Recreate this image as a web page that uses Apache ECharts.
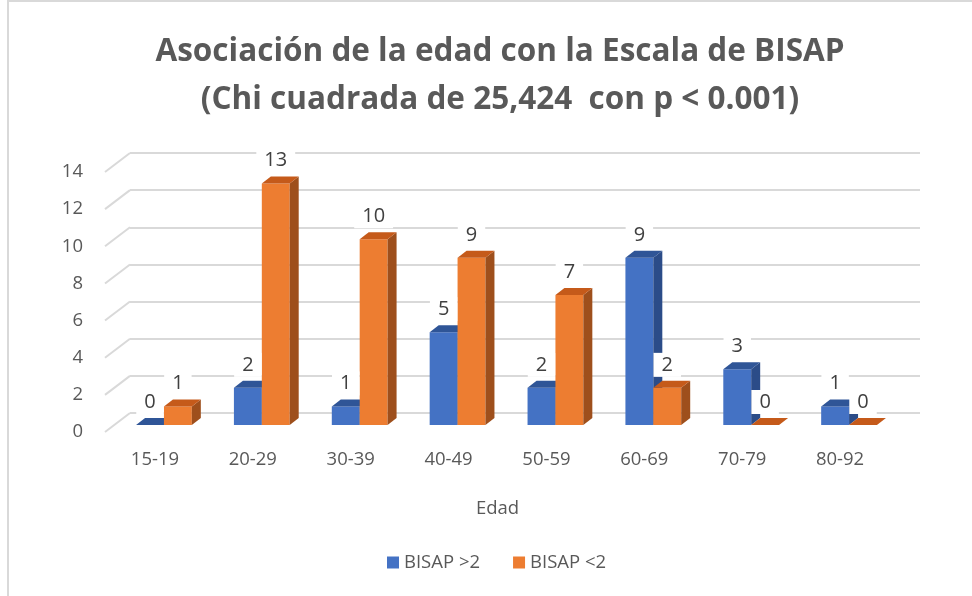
<!DOCTYPE html>
<html><head><meta charset="utf-8">
<script src="https://cdn.jsdelivr.net/npm/echarts@6/dist/echarts.min.js"></script>
<style>html,body{margin:0;padding:0;background:#fff}#c{width:972px;height:596px}</style>
</head><body><div id="c"></div>
<script>
var categories = ['15-19','20-29','30-39','40-49','50-59','60-69','70-79','80-92'];
var seriesNames = ['BISAP >2','BISAP <2'];
var bisapHigh = [0,2,1,5,2,9,3,1];
var bisapLow = [1,13,10,9,7,2,0,0];
var yTicks = [0,2,4,6,8,10,12,14];
var titleText = 'Asociación de la edad con la Escala de BISAP\n(Chi cuadrada de 25,424  con p < 0.001)';
var xName = 'Edad';

var FONT = "'Open Sans','Noto Sans',sans-serif";
var LFONT = "'Open Sans','Noto Sans',sans-serif";
var palettes = [
  {front:'#4472C4', top:'#2F5597', side:'#2B4C88'},
  {front:'#ED7D31', top:'#C55A1A', side:'#9E4F1C'}
];
var DX = 9, DY = -7;

function barGeom(api, idx){
  var cat = api.value(0), v = api.value(1);
  var base = api.coord([cat, 0]);
  var top = api.coord([cat, v]);
  var band = api.size([1, 0])[0];
  var w = band * 0.285;
  var x0 = idx === 0 ? base[0] - w : base[0];
  return {x0:x0, x1:x0+w, yb:base[1], yt:top[1], w:w, v:v};
}
function makeBars(idx){
  var p = palettes[idx];
  return function(params, api){
    var g = barGeom(api, idx);
    var ch = [];
    ch.push({type:'rect', shape:{x:g.x0, y:g.yt, width:g.w, height:g.yb-g.yt}, style:{fill:p.front}});
    ch.push({type:'polygon', shape:{points:[[g.x1,g.yt],[g.x1+DX,g.yt+DY],[g.x1+DX,g.yb+DY],[g.x1,g.yb]]}, style:{fill:p.side}});
    ch.push({type:'polygon', shape:{points:[[g.x0,g.yt],[g.x1,g.yt],[g.x1+DX,g.yt+DY],[g.x0+DX,g.yt+DY]]}, style:{fill:p.top}});
    return {type:'group', children:ch};
  };
}
function makeLabels(idx){
  return function(params, api){
    var g = barGeom(api, idx);
    return {type:'text', x:(g.x0+g.x1)/2, y:g.yt-23,
      style:{text:String(g.v), fill:'#404040', font:'20px '+LFONT, align:'center', verticalAlign:'middle',
        backgroundColor:'#fff', padding:[3,8,1,8]}};
  };
}
function toData(arr){ return arr.map(function(v,i){return [i,v];}); }

var chart = echarts.init(document.getElementById('c'), null, {renderer:'canvas'});
chart.setOption({
  backgroundColor:'#fff',
  animation:false,
  graphic:[{type:'rect', shape:{x:8, y:1, width:980, height:610}, style:{fill:'none', stroke:'#d9d9d9', lineWidth:2}, z:-10}],
  title:{text:titleText, left:495, textAlign:'center', top:23,
    textStyle:{fontFamily:FONT, fontSize:31.5, fontWeight:'bold', color:'#595959', lineHeight:48}},
  legend:{data:seriesNames.map(function(n,i){return {name:n, itemStyle:{color:palettes[i].front}};}),
    bottom:19, left:382, icon:'rect', itemWidth:12, itemHeight:12, itemGap:33,
    textStyle:{fontFamily:LFONT, fontSize:18.5, color:'#595959'}},
  grid:[
    {left:115, right:74, top:165, bottom:171},
    {left:130, right:52, top:153, bottom:183},
    {left:106, right:83, top:172, bottom:164}
  ],
  xAxis:[
    {gridIndex:0, type:'category', data:categories, show:false},
    {gridIndex:1, type:'value', min:0, max:1, show:false},
    {gridIndex:2, type:'category', data:categories, axisLine:{show:false}, axisTick:{show:false},
     axisLabel:{fontFamily:LFONT, fontSize:18.5, color:'#595959', margin:18},
     name:xName, nameLocation:'middle', nameGap:67, nameTextStyle:{fontFamily:LFONT, fontSize:18.5, color:'#595959'}}
  ],
  yAxis:[
    {gridIndex:0, type:'value', min:0, max:14, interval:2, show:false},
    {gridIndex:1, type:'value', min:0, max:14, interval:2, axisLine:{show:false}, axisTick:{show:false}, axisLabel:{show:false},
     splitLine:{lineStyle:{color:'#d9d9d9', width:2}}},
    {gridIndex:2, type:'value', min:0, max:14, interval:2, axisLine:{show:false}, axisTick:{show:false}, splitLine:{show:false},
     axisLabel:{fontFamily:LFONT, fontSize:18.5, color:'#595959', margin:23}}
  ],
  series:[
    {type:'custom', name:'_diag', xAxisIndex:1, yAxisIndex:1, silent:true, z:1,
     data:yTicks.map(function(t){return [0,t];}),
     renderItem:function(params, api){
       var p = api.coord([0, api.value(1)]);
       return {type:'line', shape:{x1:p[0], y1:p[1], x2:p[0]-25, y2:p[1]+19}, style:{stroke:'#d9d9d9', lineWidth:2}};
     }},
    {type:'custom', name:seriesNames[0], xAxisIndex:0, yAxisIndex:0, z:3, itemStyle:{color:palettes[0].front},
     data:toData(bisapHigh), renderItem:makeBars(0)},
    {type:'custom', name:seriesNames[1], xAxisIndex:0, yAxisIndex:0, z:4, itemStyle:{color:palettes[1].front},
     data:toData(bisapLow), renderItem:makeBars(1)},
    {type:'custom', name:'_lab0', xAxisIndex:0, yAxisIndex:0, z:10, silent:true, data:toData(bisapHigh), renderItem:makeLabels(0)},
    {type:'custom', name:'_lab1', xAxisIndex:0, yAxisIndex:0, z:10, silent:true, data:toData(bisapLow), renderItem:makeLabels(1)}
  ]
});
</script></body></html>
